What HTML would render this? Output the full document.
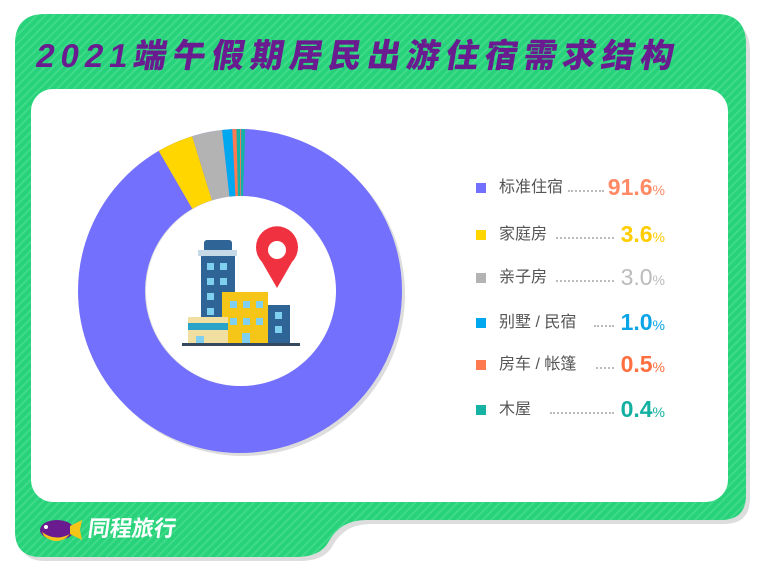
<!DOCTYPE html>
<html><head><meta charset="utf-8"><style>
body{margin:0;width:765px;height:572px;background:#fff;overflow:hidden;position:relative;font-family:"Liberation Sans","Noto Sans CJK SC",sans-serif}
.t{position:absolute;left:33px;top:36px;font-size:33px;font-weight:900;color:#6a1b8f;letter-spacing:6px;transform:skewX(-10deg);transform-origin:left bottom;white-space:nowrap;line-height:40px}
.row{position:absolute;left:476px;height:24px;width:200px}
.sq{position:absolute;left:0;top:7px;width:10px;height:10px}
.lb{position:absolute;left:23px;top:0;font-size:16px;color:#555;line-height:24px;white-space:nowrap}
.dots{position:absolute;top:14px;border-top:2px dotted #bbb;height:0}
.v{position:absolute;right:11px;top:-4px;font-size:23px;font-weight:bold;line-height:30px;white-space:nowrap}
.v small{font-size:14px;font-weight:normal}
.logo{position:absolute;left:88px;top:515px;font-size:22px;font-weight:bold;color:#fff;transform:skewX(-8deg);line-height:28px}
</style></head><body>
<svg width="765" height="572" style="position:absolute;left:0;top:0">
<defs><pattern id="st" width="6" height="6" patternUnits="userSpaceOnUse" patternTransform="rotate(45)"><rect width="6" height="6" fill="#27d27a"/><rect width="2" height="6" fill="#3fdb8a"/></pattern></defs>
<path d="M49 18 H716 Q750 18 750 52 V498 Q750 524 724 524 H370 Q345 524 333 545 Q325 561 300 561 H45 Q19 561 19 535 V52 Q19 18 49 18 Z" fill="#ddd"/>
<path d="M45 14 H716 Q746 14 746 44 V495 Q746 520 721 520 H366 Q341 520 329 541 Q321 557 296 557 H41 Q15 557 15 531 V44 Q15 14 45 14 Z" fill="url(#st)"/>
<rect x="31" y="89" width="697" height="413" rx="22" fill="#fff"/>
<circle cx="243" cy="294" r="162" fill="#ddd"/>
<g transform="rotate(-90 240 291)" fill="none" stroke-width="67">
<circle cx="240" cy="291" r="128.5" stroke="#7370fd"/>
<circle cx="240" cy="291" r="128.5" stroke="#ffd600" stroke-dasharray="29.07 800" stroke-dashoffset="-739.5"/>
<circle cx="240" cy="291" r="128.5" stroke="#b3b3b3" stroke-dasharray="24.22 800" stroke-dashoffset="-768.6"/>
<circle cx="240" cy="291" r="128.5" stroke="#00a8f0" stroke-dasharray="8.07 800" stroke-dashoffset="-792.8"/>
<circle cx="240" cy="291" r="128.5" stroke="#ff7a50" stroke-dasharray="4.04 800" stroke-dashoffset="-800.9"/>
<circle cx="240" cy="291" r="128.5" stroke="#16b3a4" stroke-dasharray="3.2 800" stroke-dashoffset="-804.2"/>
</g>
<circle cx="241" cy="291" r="95" fill="#fff"/>
<rect x="204" y="240" width="28" height="12" rx="3" fill="#2f6496"/>
<rect x="198" y="250" width="39" height="6" fill="#c5d9e6"/>
<rect x="201" y="256" width="34" height="87" fill="#2f6496"/>
<g fill="#7fd0ef"><rect x="207" y="263" width="7" height="7"/><rect x="220" y="263" width="7" height="7"/><rect x="207" y="278" width="7" height="7"/><rect x="220" y="278" width="7" height="7"/><rect x="207" y="293" width="7" height="7"/><rect x="207" y="308" width="7" height="7"/></g>
<rect x="222" y="292" width="46" height="51" fill="#f5c518"/>
<g fill="#7fd0ef"><rect x="230" y="301" width="7" height="7"/><rect x="243" y="301" width="7" height="7"/><rect x="256" y="301" width="7" height="7"/><rect x="230" y="318" width="7" height="7"/><rect x="243" y="318" width="7" height="7"/><rect x="256" y="318" width="7" height="7"/><rect x="242" y="333" width="8" height="10"/></g>
<rect x="268" y="305" width="22" height="38" fill="#2f6496"/>
<g fill="#7fd0ef"><rect x="275" y="312" width="7" height="7"/><rect x="275" y="326" width="7" height="7"/></g>
<rect x="188" y="317" width="40" height="26" fill="#f0dfa0"/>
<rect x="188" y="323" width="40" height="7" fill="#2aa3c8"/>
<rect x="196" y="336" width="8" height="7" fill="#7fd0ef"/>
<rect x="182" y="343" width="118" height="3" fill="#34495e"/>
<path d="M277 288 L262 262 A21 21 0 1 1 292 262 Z" fill="#f0313f"/>
<circle cx="277" cy="250" r="9" fill="#fff"/>
<ellipse cx="57" cy="530" rx="17" ry="10" fill="#6a1b8f"/>
<path d="M70 526 L82 520 L80 530 L82 540 L70 534 Z" fill="#f5c518"/>
<path d="M42 532 Q55 542 70 534 L66 538 Q55 545 44 536 Z" fill="#f5c518"/>
<circle cx="46" cy="527" r="2" fill="#fff"/>
</svg>
<div class="t">2021端午假期居民出游住宿需求结构</div>
<div class="row" style="top:176px"><div class="sq" style="background:#7370fd"></div><div class="lb">标准住宿</div><div class="dots" style="left:92px;width:36px"></div><div class="v" style="color:#ff8a65">91.6<small>%</small></div></div>
<div class="row" style="top:223px"><div class="sq" style="background:#ffd600"></div><div class="lb">家庭房</div><div class="dots" style="left:80px;width:58px"></div><div class="v" style="color:#ffcc00">3.6<small>%</small></div></div>
<div class="row" style="top:266px"><div class="sq" style="background:#b3b3b3"></div><div class="lb">亲子房</div><div class="dots" style="left:80px;width:58px"></div><div class="v" style="color:#bbb;font-weight:normal">3.0<small>%</small></div></div>
<div class="row" style="top:311px"><div class="sq" style="background:#00a8f0"></div><div class="lb">别墅 / 民宿</div><div class="dots" style="left:118px;width:20px"></div><div class="v" style="color:#0aa5e8">1.0<small>%</small></div></div>
<div class="row" style="top:353px"><div class="sq" style="background:#ff7a50"></div><div class="lb">房车 / 帐篷</div><div class="dots" style="left:120px;width:18px"></div><div class="v" style="color:#ff6f40">0.5<small>%</small></div></div>
<div class="row" style="top:398px"><div class="sq" style="background:#16b3a4"></div><div class="lb">木屋</div><div class="dots" style="left:74px;width:64px"></div><div class="v" style="color:#12b0a0">0.4<small>%</small></div></div>
<div class="logo">同程旅行</div>
</body></html>
